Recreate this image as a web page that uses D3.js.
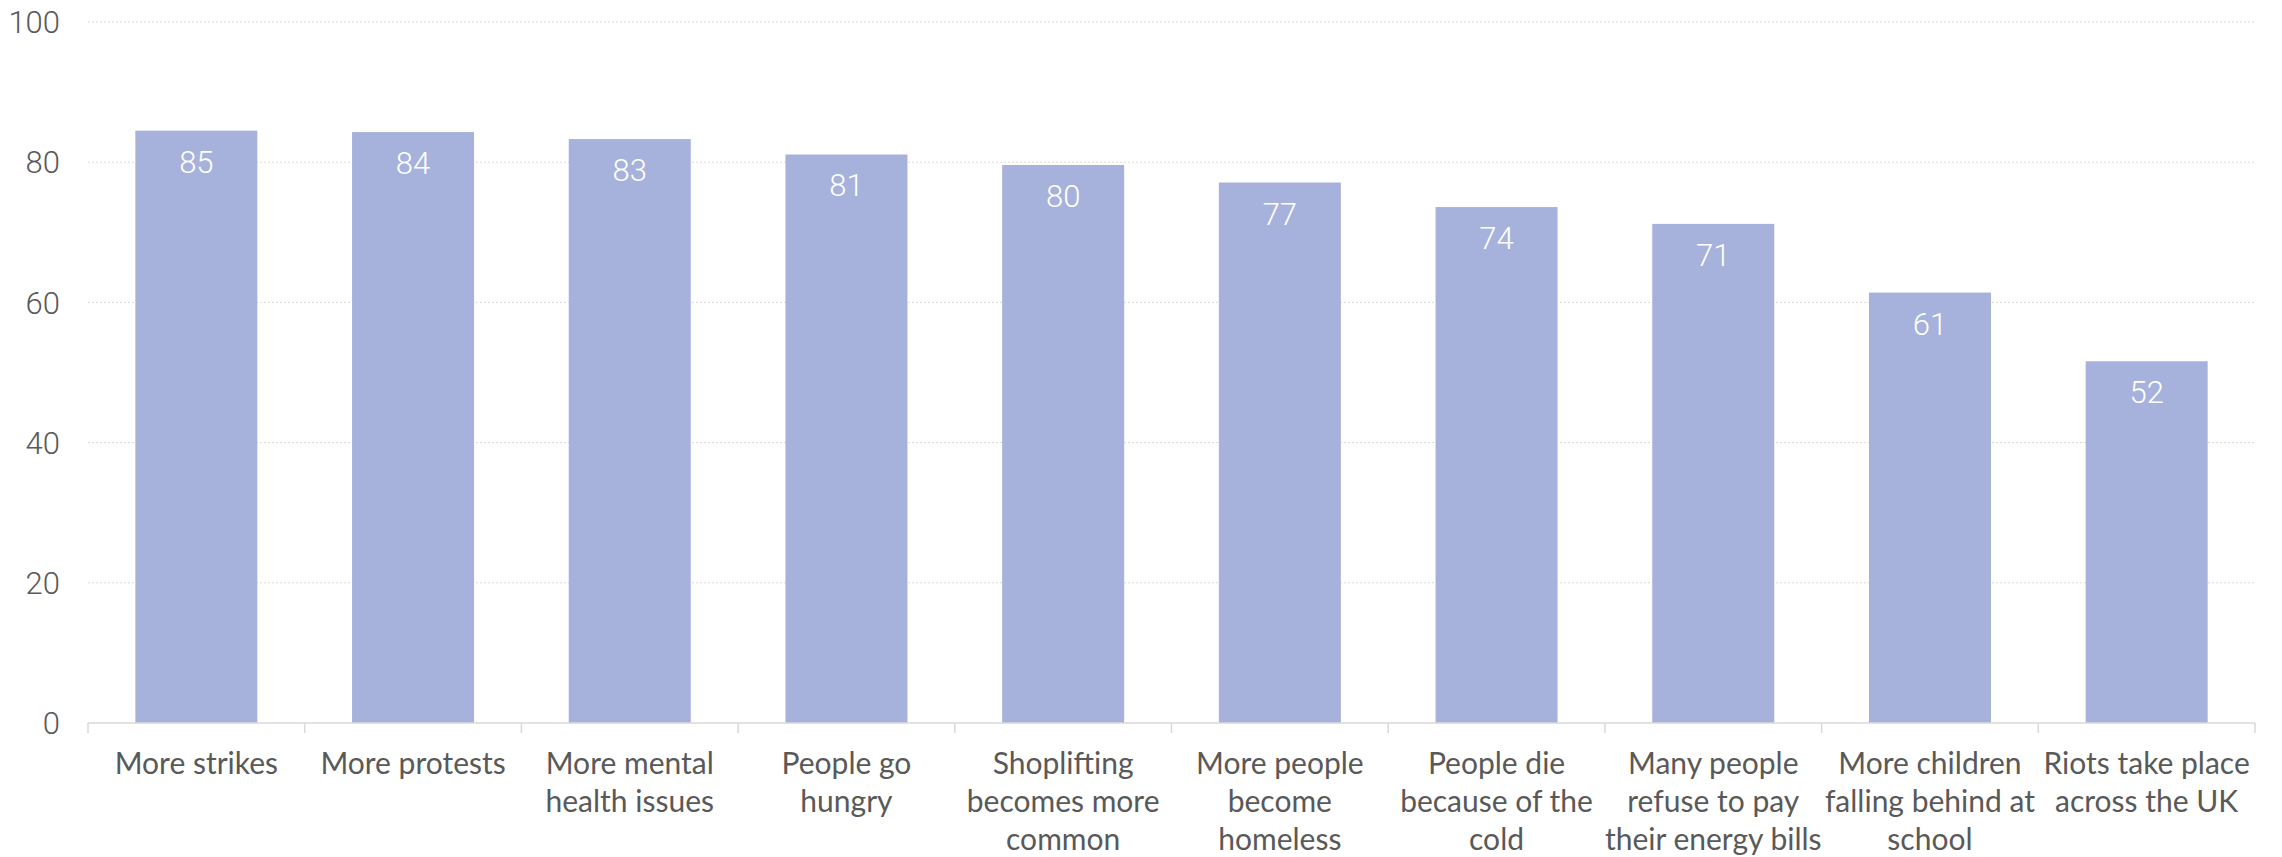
<!DOCTYPE html>
<html>
<head>
<meta charset="utf-8">
<script src="https://cdn.jsdelivr.net/npm/d3@7"></script>
<style>
  body { margin: 0; background: #fff; }
  svg { display: block; }
</style>
</head>
<body>
<div id="viz"></div>
<script>
// data
const categories = [
  ['More strikes'],
  ['More protests'],
  ['More mental', 'health issues'],
  ['People go', 'hungry'],
  ['Shoplifting', 'becomes more', 'common'],
  ['More people', 'become', 'homeless'],
  ['People die', 'because of the', 'cold'],
  ['Many people', 'refuse to pay', 'their energy bills'],
  ['More children', 'falling behind at', 'school'],
  ['Riots take place', 'across the UK']
];
const values = [84.5, 84.3, 83.3, 81.1, 79.6, 77.1, 73.6, 71.2, 61.4, 51.6];
const yTicks = [0, 20, 40, 60, 80, 100];

const width = 2282, height = 857,
  margin = { top: 22, right: 27, bottom: 134, left: 88 };

const svg = d3.select('#viz').append('svg')
  .attr('width', width)
  .attr('height', height);

const x = d3.scaleBand()
  .domain(d3.range(categories.length))
  .range([margin.left, width - margin.right])
  .paddingInner(0.437)
  .paddingOuter(0.2185);

const y = d3.scaleLinear()
  .domain([0, 100])
  .range([height - margin.bottom, margin.top]);

// gridlines (dotted)
svg.append('g')
  .selectAll('line')
  .data(yTicks.filter(t => t > 0))
  .join('line')
    .attr('x1', margin.left)
    .attr('x2', width - margin.right)
    .attr('y1', d => y(d))
    .attr('y2', d => y(d))
    .attr('stroke', '#d9d9d9')
    .attr('stroke-width', 1)
    .attr('stroke-dasharray', '2,2');

// y tick labels
svg.append('g')
  .selectAll('text')
  .data(yTicks)
  .join('text')
    .attr('x', 60)
    .attr('y', d => y(d))
    .attr('dy', '0.36em')
    .attr('text-anchor', 'end')
    .attr('font-family', 'Roboto, sans-serif')
    .attr('font-weight', 300)
    .attr('font-size', '31px')
    .attr('fill', '#595959')
    .text(d => d);

// bars
svg.append('g')
  .selectAll('rect')
  .data(values)
  .join('rect')
    .attr('x', (d, i) => x(i))
    .attr('width', x.bandwidth())
    .attr('y', d => y(d))
    .attr('height', d => y(0) - y(d))
    .attr('fill', '#a7b2dc');

// value labels
svg.append('g')
  .selectAll('text')
  .data(values)
  .join('text')
    .attr('x', (d, i) => x(i) + x.bandwidth() / 2)
    .attr('y', d => y(d) + 42)
    .attr('text-anchor', 'middle')
    .attr('font-family', 'Roboto, sans-serif')
    .attr('font-weight', 300)
    .attr('font-size', '31px')
    .attr('fill', '#ffffff')
    .text(d => Math.round(d));

// x axis: line + boundary ticks
const step = x.step(), x0 = margin.left;
const axis = svg.append('g').attr('stroke', '#d9d9d9').attr('stroke-width', 1.5);
axis.append('line')
  .attr('x1', x0).attr('x2', width - margin.right)
  .attr('y1', y(0)).attr('y2', y(0));
axis.selectAll('line.tick')
  .data(d3.range(categories.length + 1))
  .join('line')
    .attr('class', 'tick')
    .attr('x1', d => x0 + d * step)
    .attr('x2', d => x0 + d * step)
    .attr('y1', y(0))
    .attr('y2', y(0) + 10);

// category labels
const lbl = svg.append('g')
  .selectAll('text')
  .data(categories)
  .join('text')
    .attr('x', (d, i) => x(i) + x.bandwidth() / 2)
    .attr('y', y(0) + 51)
    .attr('text-anchor', 'middle')
    .attr('font-family', 'Lato, "Liberation Sans", sans-serif')
    .attr('font-size', '30px')
    .attr('fill', '#595959');
lbl.selectAll('tspan')
  .data(d => d)
  .join('tspan')
    .attr('x', function() { return d3.select(this.parentNode).attr('x'); })
    .attr('dy', (d, i) => i === 0 ? 0 : 38)
    .text(d => d);
</script>
</body>
</html>
